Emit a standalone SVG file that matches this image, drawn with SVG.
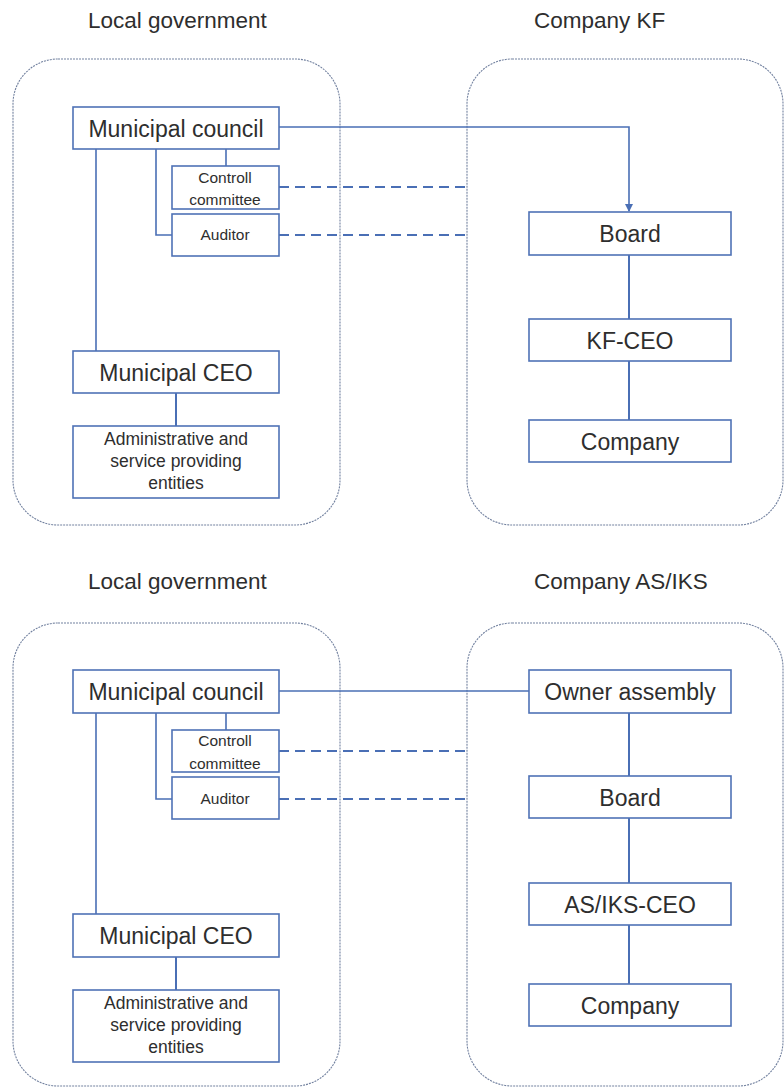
<svg xmlns="http://www.w3.org/2000/svg" width="784" height="1088" viewBox="0 0 784 1088">
<defs>
<style>
.cont{fill:none;stroke:#72819f;stroke-width:1.1;stroke-dasharray:2,1}
.box{fill:#ffffff;stroke:#4f72b6;stroke-width:1.6}
.ln{fill:none;stroke:#4a6fb5;stroke-width:1.6}
.vln{fill:none;stroke:#4a6fb5;stroke-width:2}
.dash{fill:none;stroke:#4a6fb5;stroke-width:1.8;stroke-dasharray:10,6}
.t{font-family:"Liberation Sans",Arial,sans-serif;fill:#2e2e2e;text-anchor:middle}
.big{font-size:23px}
.mid{font-size:17.5px}
.sm{font-size:15.5px}
.title{font-family:"Liberation Sans",Arial,sans-serif;fill:#2e2e2e;font-size:22.5px}
</style>
<marker id="arr" markerWidth="8" markerHeight="8" refX="7" refY="4" orient="auto" markerUnits="userSpaceOnUse">
<path d="M0,0 L8,4 L0,8 Z" fill="#4a6fb5"/>
</marker>
</defs>

<g id="titles">
<text class="title" x="88" y="28">Local government</text>
<text class="title" x="534" y="28">Company KF</text>
<text class="title" x="88" y="589">Local government</text>
<text class="title" x="534" y="589">Company AS/IKS</text>
</g>

<g id="containers">
<rect class="cont" x="13" y="59" width="327" height="466" rx="45" ry="45"/>
<rect class="cont" x="467" y="59" width="316" height="466" rx="45" ry="45"/>
<rect class="cont" x="13" y="623" width="327" height="463" rx="45" ry="45"/>
<rect class="cont" x="467" y="623" width="316" height="463" rx="45" ry="45"/>
</g>

<g id="connectors">
<path class="ln" d="M279,127 H629 V211" marker-end="url(#arr)"/>
<path class="ln" d="M226,149 V166"/>
<path class="ln" d="M156,149 V235 H172"/>
<path class="ln" d="M96,149 V351"/>
<path class="vln" d="M176,393 V426"/>
<path class="dash" d="M279,187 H467"/>
<path class="dash" d="M279,235 H467"/>
<path class="vln" d="M629,255 V319"/>
<path class="vln" d="M629,361 V420"/>
<path class="ln" d="M279,691 H529"/>
<path class="ln" d="M226,713 V730"/>
<path class="ln" d="M156,713 V799 H172"/>
<path class="ln" d="M96,713 V914"/>
<path class="vln" d="M176,957 V990"/>
<path class="dash" d="M279,751 H467"/>
<path class="dash" d="M279,799 H467"/>
<path class="vln" d="M629,713 V776"/>
<path class="vln" d="M629,818 V883"/>
<path class="vln" d="M629,925 V984"/>
</g>

<g id="council1"><rect class="box" x="73" y="107" width="206" height="42"/><text class="t big" x="176" y="137">Municipal council</text></g>
<g id="controll1"><rect class="box" x="172" y="166" width="107" height="43"/><text class="t sm" x="225" y="183">Controll</text><text class="t sm" x="225" y="205">committee</text></g>
<g id="auditor1"><rect class="box" x="172" y="214" width="107" height="42"/><text class="t sm" x="225" y="240">Auditor</text></g>
<g id="ceo1"><rect class="box" x="73" y="351" width="206" height="42"/><text class="t big" x="176" y="381">Municipal CEO</text></g>
<g id="admin1"><rect class="box" x="73" y="426" width="206" height="72"/><text class="t mid" x="176" y="445">Administrative and</text><text class="t mid" x="176" y="467">service providing</text><text class="t mid" x="176" y="489">entities</text></g>
<g id="board1"><rect class="box" x="529" y="212" width="202" height="43"/><text class="t big" x="630" y="242">Board</text></g>
<g id="kfceo"><rect class="box" x="529" y="319" width="202" height="42"/><text class="t big" x="630" y="349">KF-CEO</text></g>
<g id="company1"><rect class="box" x="529" y="420" width="202" height="42"/><text class="t big" x="630" y="450">Company</text></g>

<g id="council2"><rect class="box" x="73" y="670" width="206" height="43"/><text class="t big" x="176" y="700">Municipal council</text></g>
<g id="controll2"><rect class="box" x="172" y="730" width="107" height="42"/><text class="t sm" x="225" y="746">Controll</text><text class="t sm" x="225" y="769">committee</text></g>
<g id="auditor2"><rect class="box" x="172" y="777" width="107" height="42"/><text class="t sm" x="225" y="804">Auditor</text></g>
<g id="ceo2"><rect class="box" x="73" y="914" width="206" height="43"/><text class="t big" x="176" y="944">Municipal CEO</text></g>
<g id="admin2"><rect class="box" x="73" y="990" width="206" height="72"/><text class="t mid" x="176" y="1009">Administrative and</text><text class="t mid" x="176" y="1031">service providing</text><text class="t mid" x="176" y="1053">entities</text></g>
<g id="owner"><rect class="box" x="529" y="670" width="202" height="43"/><text class="t big" x="630" y="700">Owner assembly</text></g>
<g id="board2"><rect class="box" x="529" y="776" width="202" height="42"/><text class="t big" x="630" y="806">Board</text></g>
<g id="asiksceo"><rect class="box" x="529" y="883" width="202" height="42"/><text class="t big" x="630" y="913">AS/IKS-CEO</text></g>
<g id="company2"><rect class="box" x="529" y="984" width="202" height="42"/><text class="t big" x="630" y="1014">Company</text></g>
</svg>
